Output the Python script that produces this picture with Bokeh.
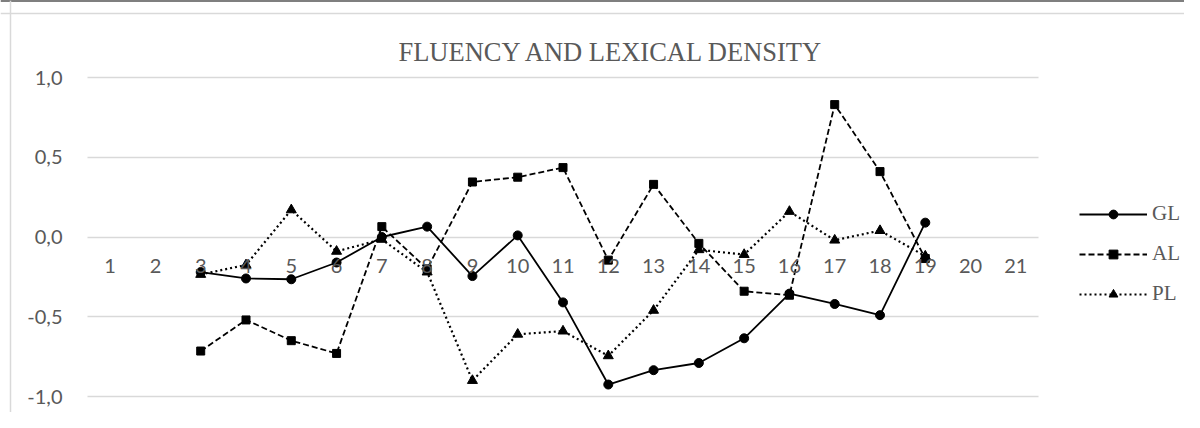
from bokeh.plotting import figure
from bokeh.models import (Range1d, FixedTicker, CustomJSTickFormatter,
                          Legend, LegendItem, Span, Label)
from bokeh.embed import file_html
from bokeh.resources import INLINE

nan = float("nan")
categories = list(range(1, 22))
gl = [nan, nan, -0.22, -0.26, -0.265, -0.16, 0.0, 0.065, -0.245, 0.01, -0.41,
      -0.925, -0.835, -0.79, -0.635, -0.355, -0.42, -0.49, 0.09, nan, nan]
al = [nan, nan, -0.715, -0.52, -0.65, -0.73, 0.065, -0.2, 0.345, 0.375, 0.435,
      -0.145, 0.33, -0.04, -0.34, -0.365, 0.83, 0.41, -0.135, nan, nan]
pl = [nan, nan, -0.235, -0.175, 0.17, -0.09, -0.015, -0.22, -0.9, -0.61, -0.59,
      -0.745, -0.46, -0.08, -0.11, 0.16, -0.02, 0.04, -0.12, nan, nan]
y_ticks = [-1.0, -0.5, 0.0, 0.5, 1.0]
title_text = "FLUENCY AND LEXICAL DENSITY"

GRAY = "#595959"
GRID = "#d9d9d9"

W, H = 1184, 412
# plot area: categories 0.5..21.5 span x 87..1038 px, values 1.0..-1.0 span y 77..396 px
px_per_cat = (1038 - 87) / 21.0
px_per_val = (396 - 77) / 2.0
x_start = 0.5 - 87 / px_per_cat
x_end = 21.5 + (W - 1038) / px_per_cat
y_end = 1.0 + 77 / px_per_val
y_start = 1.0 - (H - 77) / px_per_val

p = figure(width=W, height=H,
           x_range=Range1d(x_start, x_end), y_range=Range1d(y_start, y_end),
           output_backend="svg", toolbar_location=None,
           min_border_left=0, min_border_right=0,
           min_border_top=0, min_border_bottom=0)
p.outline_line_color = None

# y axis placed at the left edge of the category band
p.yaxis.fixed_location = 0.5
p.yaxis.ticker = FixedTicker(ticks=y_ticks)
p.yaxis.formatter = CustomJSTickFormatter(code="return tick.toFixed(1).replace('.', ',');")
p.yaxis.axis_line_color = None
p.yaxis.major_tick_line_color = None
p.yaxis.minor_tick_line_color = None
p.yaxis.major_label_standoff = 19
p.yaxis.major_label_text_font = "Lato"
p.yaxis.major_label_text_font_size = "20px"
p.yaxis.major_label_text_color = GRAY

# x axis crossing at 0
p.xaxis.fixed_location = 0
p.xaxis.ticker = FixedTicker(ticks=categories)
p.xaxis.axis_line_color = None
p.xaxis.major_tick_line_color = None
p.xaxis.minor_tick_line_color = None
p.xaxis.major_label_standoff = 16
p.xaxis.major_label_text_font = "Lato"
p.xaxis.major_label_text_font_size = "20px"
p.xaxis.major_label_text_color = GRAY

p.xgrid.visible = False
ygrid = p.ygrid[0]
ygrid.ticker = FixedTicker(ticks=y_ticks)
ygrid.grid_line_color = GRID
ygrid.grid_line_width = 1.5
if "cross_bounds" in ygrid.properties():
    ygrid.cross_bounds = (0.5, 21.5)

# page rule at the very top, and chart border (left and top edges of the chart box)
p.add_layout(Span(location=0, location_units="canvas", dimension="width",
                  line_color="black", line_width=2))
p.add_layout(Span(location=10, location_units="canvas", dimension="height",
                  line_color=GRID, line_width=1.5))
p.add_layout(Span(location=13, location_units="canvas", dimension="width",
                  line_color=GRID, line_width=1.5))

# title
p.add_layout(Label(x=611, y=H - 51, x_units="screen", y_units="screen",
                   text=title_text, text_align="center", text_baseline="alphabetic",
                   text_font="Liberation Serif", text_font_size="26.5px",
                   text_color=GRAY))

gl_line = p.line(categories, gl, line_color="black", line_width=1.8)
gl_pts = p.scatter(categories, gl, marker="circle", size=9, color="black")
al_line = p.line(categories, al, line_color="black", line_width=1.8, line_dash="6 3")
al_pts = p.scatter(categories, al, marker="square", size=8, color="black")
pl_line = p.line(categories, pl, line_color="black", line_width=2.2, line_dash="2 3")
pl_pts = p.scatter(categories, pl, marker="triangle", size=10, color="black")

legend = Legend(items=[
    LegendItem(label="GL", renderers=[gl_line, gl_pts]),
    LegendItem(label="AL", renderers=[al_line, al_pts]),
    LegendItem(label="PL", renderers=[pl_line, pl_pts]),
], location=(1079, 106))
legend.glyph_width = 68
legend.glyph_height = 22
legend.label_height = 22
legend.spacing = 15
legend.padding = 0
legend.margin = 0
legend.label_standoff = 5
legend.border_line_color = None
legend.background_fill_alpha = 0
legend.label_text_font = "Liberation Serif"
legend.label_text_font_size = "21px"
legend.label_text_color = GRAY
p.add_layout(legend, "center")

open("out.html", "w").write(file_html(p, INLINE))
